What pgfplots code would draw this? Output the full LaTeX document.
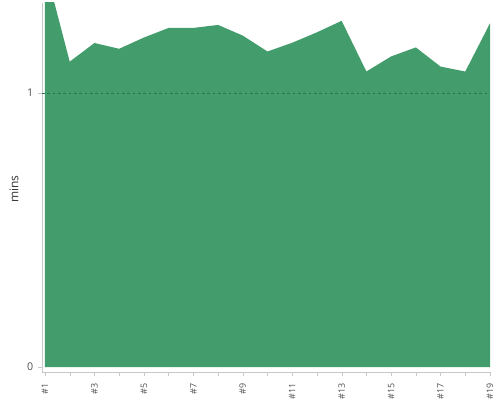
\documentclass[border=0pt]{standalone}
\usepackage{pgfplots}
\pgfplotsset{compat=1.18}
\usepackage{fontspec}
\setmainfont{Open Sans}
\definecolor{areagreen}{RGB}{67,156,108}
\definecolor{gridgreen}{RGB}{45,115,75}
\definecolor{axisgray}{RGB}{200,200,200}
\definecolor{labelgray}{RGB}{80,80,80}
\begin{document}
\begin{tikzpicture}[x=0.75pt,y=0.75pt]
\useasboundingbox (-42,-28) rectangle (458,372);
\begin{axis}[
  at={(0,0)}, anchor=south west,
  scale only axis,
  width=336pt, height=276.75pt,
  xmin=0.879, xmax=19,
  ymin=-0.0182, ymax=1.328,
  axis x line=bottom, axis y line=left,
  axis line style={draw=axisgray,-},
  xtick={1,...,19},
  xticklabels={\#1,,\#3,,\#5,,\#7,,\#9,,\#11,,\#13,,\#15,,\#17,,\#19},
  ytick={0,1},
  x tick label style={rotate=90, anchor=east, font=\fontsize{6.7}{7}\selectfont, color=labelgray, xshift=-2pt},
  y tick label style={font=\fontsize{8}{9}\selectfont, color=labelgray},
  tick style={draw=axisgray},
  major tick length=3pt,
  xtick align=outside, ytick align=outside,
  /pgf/number format/assume math mode=true,
  ylabel={mins},
  ylabel style={font=\fontsize{9}{10}\selectfont, color=black!80, at={(axis description cs:-0.0625,0.496)}, anchor=center, rotate=0},
  clip=true,
]
\addplot[fill=areagreen, draw=none] coordinates {
(1,1.46) (2,1.114) (3,1.182) (4,1.161) (5,1.202) (6,1.237) (7,1.237)
(8,1.248) (9,1.209) (10,1.151) (11,1.183) (12,1.221) (13,1.263)
(14,1.078) (15,1.133) (16,1.166) (17,1.096) (18,1.078) (19,1.254)
} \closedcycle;
\draw[gridgreen, dashed, dash pattern=on 2pt off 2pt, line width=0.5pt] (axis cs:0.879,1) -- (axis cs:19,1);
\end{axis}
\end{tikzpicture}
\end{document}
